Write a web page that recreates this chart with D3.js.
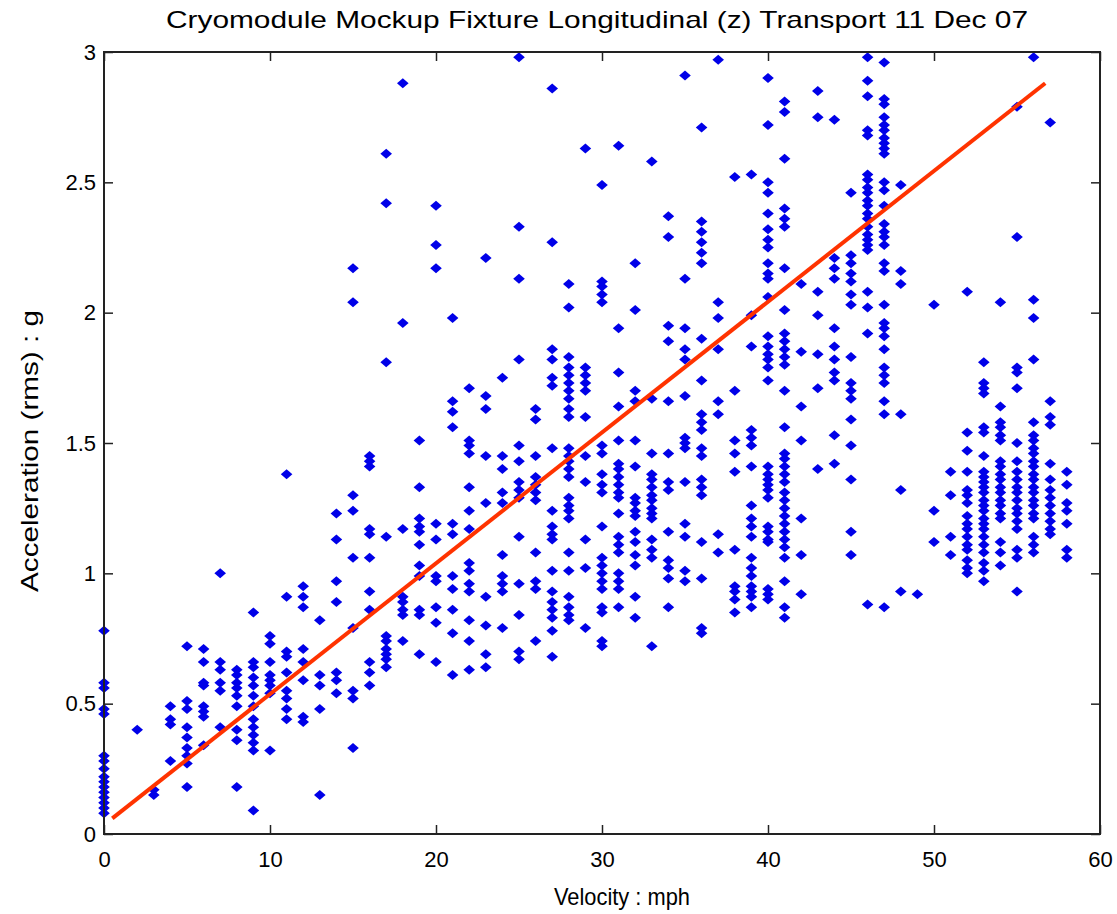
<!DOCTYPE html>
<html>
<head>
<meta charset="utf-8">
<script src="https://cdn.jsdelivr.net/npm/d3@7"></script>
<style>
  body { margin: 0; background: #fff; }
  text { font-family: "Liberation Sans", Arial, sans-serif; fill: #000; }
</style>
</head>
<body>
<div id="chart"></div>
<script>
// velocity columns (mph) and the rms accelerations read at each one (g)
const speeds = [0, 2, 3, 4, 5, 6, 7, 8, 9, 10, 11, 12, 13, 14, 15, 16, 17, 18, 19, 20,
  21, 22, 23, 24, 25, 26, 27, 28, 29, 30, 31, 32, 33, 34, 35, 36, 37, 38, 39, 40,
  41, 42, 43, 44, 45, 46, 47, 48, 49, 50, 51, 52, 53, 54, 55, 56, 57, 58];

const accel = [
  [0.78, 0.58, 0.56, 0.48, 0.46, 0.30, 0.28, 0.25, 0.22, 0.20, 0.18, 0.16, 0.14, 0.12, 0.10, 0.08],
  [0.40],
  [0.17, 0.15],
  [0.49, 0.44, 0.42, 0.28],
  [0.72, 0.51, 0.48, 0.41, 0.37, 0.33, 0.30, 0.27, 0.18],
  [0.71, 0.66, 0.58, 0.57, 0.49, 0.47, 0.45, 0.34],
  [1.00, 0.66, 0.63, 0.58, 0.55, 0.41],
  [0.63, 0.61, 0.58, 0.56, 0.53, 0.49, 0.40, 0.36, 0.18],
  [0.85, 0.66, 0.64, 0.60, 0.57, 0.53, 0.49, 0.44, 0.41, 0.38, 0.35, 0.32, 0.09],
  [0.76, 0.73, 0.66, 0.61, 0.59, 0.57, 0.54, 0.32],
  [1.38, 0.91, 0.70, 0.68, 0.62, 0.55, 0.52, 0.48, 0.44],
  [0.95, 0.91, 0.87, 0.71, 0.66, 0.59, 0.45, 0.43],
  [0.82, 0.61, 0.57, 0.48, 0.15],
  [1.23, 1.13, 0.97, 0.89, 0.62, 0.59, 0.54],
  [2.17, 2.04, 1.30, 1.24, 1.06, 0.79, 0.55, 0.52, 0.33],
  [1.45, 1.43, 1.41, 1.17, 1.15, 1.06, 0.93, 0.86, 0.66, 0.62, 0.57],
  [2.61, 2.42, 1.81, 1.14, 0.76, 0.74, 0.71, 0.69, 0.67, 0.64],
  [2.88, 1.96, 1.17, 0.91, 0.89, 0.86, 0.84, 0.74],
  [1.51, 1.33, 1.21, 1.18, 1.16, 1.11, 1.03, 0.99, 0.86, 0.84, 0.69],
  [2.41, 2.26, 2.17, 1.19, 1.13, 0.99, 0.97, 0.87, 0.81, 0.66],
  [1.98, 1.66, 1.62, 1.56, 1.19, 1.15, 0.99, 0.94, 0.86, 0.77, 0.61],
  [1.71, 1.51, 1.49, 1.46, 1.33, 1.24, 1.17, 1.04, 1.01, 0.96, 0.93, 0.82, 0.74, 0.63],
  [2.21, 1.68, 1.63, 1.45, 1.27, 0.91, 0.80, 0.69, 0.64],
  [1.75, 1.45, 1.40, 1.31, 1.27, 1.07, 0.99, 0.96, 0.93, 0.79],
  [2.98, 2.33, 2.13, 1.82, 1.49, 1.43, 1.35, 1.32, 1.29, 1.14, 0.96, 0.84, 0.70, 0.67],
  [1.63, 1.59, 1.45, 1.37, 1.34, 1.31, 1.28, 1.08, 0.97, 0.94, 0.74],
  [2.86, 2.27, 1.86, 1.82, 1.75, 1.72, 1.48, 1.24, 1.18, 1.15, 1.13, 1.01, 0.93, 0.89, 0.86, 0.83, 0.78, 0.68],
  [2.11, 2.02, 1.83, 1.79, 1.76, 1.73, 1.70, 1.67, 1.63, 1.60, 1.48, 1.45, 1.43, 1.40, 1.37, 1.29, 1.26, 1.24, 1.21, 1.08, 1.01, 0.91, 0.87, 0.84, 0.82],
  [2.63, 1.79, 1.76, 1.73, 1.70, 1.60, 1.45, 1.35, 1.13, 1.02, 0.79],
  [2.49, 2.12, 2.10, 2.07, 2.04, 1.49, 1.46, 1.38, 1.34, 1.31, 1.18, 1.06, 1.03, 1.00, 0.97, 0.94, 0.87, 0.85, 0.74, 0.72],
  [2.64, 1.94, 1.77, 1.64, 1.51, 1.42, 1.40, 1.37, 1.34, 1.31, 1.29, 1.23, 1.14, 1.11, 1.08, 1.00, 0.97, 0.94, 0.87],
  [2.19, 2.01, 1.70, 1.66, 1.51, 1.41, 1.29, 1.27, 1.24, 1.22, 1.16, 1.12, 1.07, 1.03, 0.91, 0.83],
  [2.58, 1.67, 1.46, 1.38, 1.36, 1.33, 1.30, 1.28, 1.25, 1.23, 1.21, 1.13, 1.09, 1.06, 0.72],
  [2.37, 2.29, 1.95, 1.89, 1.66, 1.46, 1.35, 1.32, 1.16, 1.05, 1.02, 0.98, 0.87],
  [2.91, 2.13, 1.94, 1.86, 1.82, 1.68, 1.52, 1.50, 1.48, 1.35, 1.19, 1.14, 1.01, 0.97],
  [2.71, 2.35, 2.31, 2.27, 2.23, 2.19, 1.90, 1.74, 1.61, 1.58, 1.55, 1.48, 1.45, 1.36, 1.33, 1.30, 1.12, 0.98, 0.79, 0.77],
  [2.97, 2.04, 1.98, 1.86, 1.66, 1.61, 1.15, 1.08],
  [2.52, 1.70, 1.51, 1.46, 1.39, 1.09, 0.95, 0.93, 0.90, 0.85],
  [2.53, 1.99, 1.87, 1.55, 1.52, 1.49, 1.41, 1.26, 1.21, 1.18, 1.14, 1.06, 1.02, 0.99, 0.95, 0.93, 0.91, 0.87],
  [2.90, 2.72, 2.50, 2.46, 2.38, 2.32, 2.28, 2.25, 2.19, 2.15, 2.13, 2.06, 1.91, 1.87, 1.84, 1.82, 1.79, 1.74, 1.41, 1.38, 1.36, 1.34, 1.32, 1.29, 1.18, 1.16, 1.13, 1.12, 0.94, 0.92, 0.90],
  [2.81, 2.77, 2.59, 2.40, 2.36, 2.33, 2.17, 2.01, 1.92, 1.89, 1.86, 1.83, 1.80, 1.70, 1.56, 1.46, 1.44, 1.41, 1.38, 1.35, 1.31, 1.28, 1.25, 1.22, 1.19, 1.16, 1.13, 1.10, 1.06, 0.97, 0.87, 0.83],
  [2.11, 1.85, 1.64, 1.51, 1.21, 1.07, 0.92],
  [2.85, 2.75, 2.08, 1.99, 1.84, 1.71, 1.40],
  [2.74, 2.21, 2.17, 2.13, 1.94, 1.87, 1.82, 1.77, 1.74, 1.53, 1.42],
  [2.46, 2.22, 2.19, 2.15, 2.12, 2.07, 2.03, 1.83, 1.73, 1.70, 1.67, 1.59, 1.49, 1.36, 1.16, 1.07],
  [2.98, 2.89, 2.83, 2.70, 2.68, 2.53, 2.51, 2.48, 2.46, 2.43, 2.41, 2.38, 2.36, 2.33, 2.30, 2.28, 2.26, 2.24, 2.08, 2.02, 1.92, 0.88],
  [2.96, 2.82, 2.80, 2.75, 2.72, 2.70, 2.67, 2.65, 2.63, 2.61, 2.50, 2.47, 2.41, 2.34, 2.31, 2.29, 2.26, 2.19, 2.16, 2.03, 1.96, 1.94, 1.91, 1.86, 1.79, 1.76, 1.73, 1.66, 1.61, 0.87],
  [2.49, 2.16, 2.11, 1.61, 1.32, 0.93],
  [0.92],
  [2.03, 1.24, 1.12],
  [1.39, 1.30, 1.14, 1.07],
  [2.08, 1.54, 1.47, 1.39, 1.32, 1.30, 1.27, 1.22, 1.19, 1.17, 1.14, 1.11, 1.09, 1.05, 1.02, 1.00],
  [1.81, 1.73, 1.71, 1.69, 1.56, 1.54, 1.45, 1.39, 1.37, 1.35, 1.33, 1.31, 1.28, 1.26, 1.24, 1.21, 1.19, 1.17, 1.14, 1.11, 1.08, 1.04, 1.01, 0.97],
  [2.04, 1.64, 1.58, 1.56, 1.53, 1.51, 1.43, 1.41, 1.38, 1.36, 1.33, 1.31, 1.28, 1.26, 1.23, 1.21, 1.12, 1.08, 1.03],
  [2.79, 2.29, 1.79, 1.77, 1.71, 1.50, 1.43, 1.39, 1.36, 1.33, 1.31, 1.28, 1.25, 1.23, 1.20, 1.17, 1.09, 1.06, 0.93],
  [2.98, 2.05, 1.98, 1.82, 1.58, 1.53, 1.51, 1.48, 1.46, 1.43, 1.41, 1.38, 1.36, 1.33, 1.31, 1.28, 1.26, 1.23, 1.21, 1.14, 1.11, 1.08],
  [2.73, 1.66, 1.60, 1.57, 1.42, 1.36, 1.32, 1.29, 1.26, 1.23, 1.20, 1.17, 1.15],
  [1.39, 1.34, 1.27, 1.24, 1.19, 1.09, 1.06]
];

// least-squares fit line end points
const fitX = [0.5, 56.7];
const fitY = [0.06, 2.88];

const xTicks = [0, 10, 20, 30, 40, 50, 60];
const yTicks = [0, 0.5, 1, 1.5, 2, 2.5, 3];

const chartTitle = 'Cryomodule Mockup Fixture Longitudinal (z) Transport 11 Dec 07';
const xTitle = 'Velocity : mph';
const yTitle = 'Acceleration (rms) : g';

const width = 1117, height = 914;
const margin = { top: 52, right: 17, bottom: 80, left: 104 };
const innerW = width - margin.left - margin.right;
const innerH = height - margin.top - margin.bottom;

const points = speeds.flatMap((v, i) => accel[i].map(a => ({ v, a })));

const x = d3.scaleLinear().domain([0, 60]).range([0, innerW]);
const y = d3.scaleLinear().domain([0, 3]).range([innerH, 0]);

const svg = d3.select('#chart').append('svg')
    .attr('width', width)
    .attr('height', height);

const g = svg.append('g')
    .attr('transform', `translate(${margin.left},${margin.top})`);

// markers (small blue diamonds)
const marker = 'M0,-5L5.8,0L0,5L-5.8,0Z';
g.selectAll('.pt')
    .data(points)
    .enter()
    .append('path')
    .attr('class', 'pt')
    .attr('d', marker)
    .attr('transform', d => `translate(${x(d.v)},${y(d.a)})`)
    .attr('fill', '#0000e8');

// fit line
g.append('line')
    .attr('x1', x(fitX[0])).attr('y1', y(fitY[0]))
    .attr('x2', x(fitX[1])).attr('y2', y(fitY[1]))
    .attr('stroke', '#ff3300')
    .attr('stroke-width', 4);

// box + inward ticks on all four sides
const tickLen = 9;
const axisStyle = sel => {
    sel.select('.domain').remove();
    sel.selectAll('line').attr('stroke', '#222').attr('stroke-width', 1.5);
    sel.selectAll('text').attr('font-size', 22).attr('fill', '#000');
};

g.append('g')
    .attr('transform', `translate(0,${innerH})`)
    .call(d3.axisBottom(x).tickValues(xTicks).tickSize(-tickLen).tickPadding(17).tickFormat(d3.format('d')))
    .call(axisStyle);

g.append('g')
    .call(d3.axisTop(x).tickValues(xTicks).tickSize(-tickLen).tickFormat(''))
    .call(axisStyle);

g.append('g')
    .call(d3.axisLeft(y).tickValues(yTicks).tickSize(-tickLen).tickPadding(8).tickFormat(d => d))
    .call(axisStyle);

g.append('g')
    .attr('transform', `translate(${innerW},0)`)
    .call(d3.axisRight(y).tickValues(yTicks).tickSize(-tickLen).tickFormat(''))
    .call(axisStyle);

g.append('rect')
    .attr('width', innerW)
    .attr('height', innerH)
    .attr('fill', 'none')
    .attr('stroke', '#222')
    .attr('stroke-width', 2);

// titles
svg.append('text')
    .attr('x', 597)
    .attr('y', 28)
    .attr('text-anchor', 'middle')
    .attr('font-size', 24)
    .attr('textLength', 862)
    .attr('lengthAdjust', 'spacingAndGlyphs')
    .text(chartTitle);

svg.append('text')
    .attr('x', 622)
    .attr('y', 905)
    .attr('text-anchor', 'middle')
    .attr('font-size', 24)
    .attr('textLength', 136)
    .attr('lengthAdjust', 'spacingAndGlyphs')
    .text(xTitle);

svg.append('text')
    .attr('transform', `translate(38,451) rotate(-90)`)
    .attr('text-anchor', 'middle')
    .attr('font-size', 24)
    .attr('textLength', 282)
    .attr('lengthAdjust', 'spacingAndGlyphs')
    .text(yTitle);
</script>
</body>
</html>
